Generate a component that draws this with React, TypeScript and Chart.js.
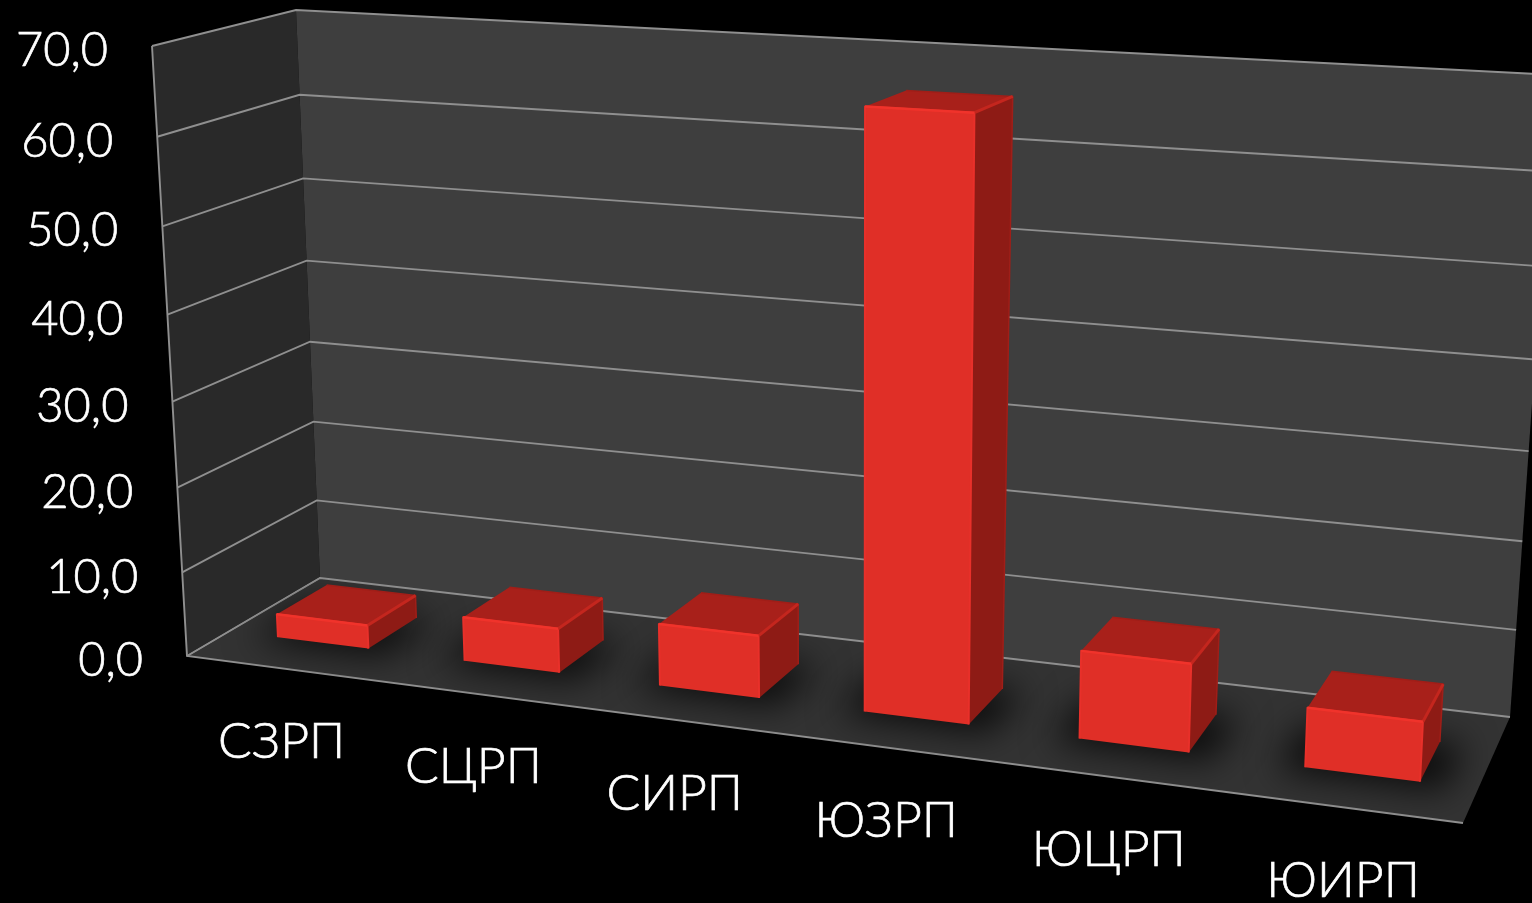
import React, { useEffect, useRef } from "react";
import { Chart, registerables } from "chart.js";

Chart.register(...registerables);

const categories = ["СЗРП", "СЦРП", "СИРП", "ЮЗРП", "ЮЦРП", "ЮИРП"];
const values = [2.8, 5.2, 7.2, 66.2, 9.8, 6.5];
const axisMin = 0;
const axisMax = 70;
const axisStep = 10;

type Pt = [number, number];
const FONT = "Lato, 'Noto Sans', sans-serif";

// Screen corners of the 3-D box: [u=0,w=0],[u=1,w=0],[u=1,w=1],[u=0,w=1]
const frontPlane: Pt[] = [[187, 656], [1463, 823], [1495, 118], [152, 46]];
const backPlane: Pt[] = [[320, 578], [1510, 717], [1555, 75], [296, 10]];
const barFrontDepth = 0.32;
const barBackDepth = 0.7;
const barShiftU = 0.002;

function homography(q: Pt[]) {
  const [[x0, y0], [x1, y1], [x2, y2], [x3, y3]] = q;
  const dx1 = x1 - x2, dx2 = x3 - x2, sx = x0 - x1 + x2 - x3;
  const dy1 = y1 - y2, dy2 = y3 - y2, sy = y0 - y1 + y2 - y3;
  const den = dx1 * dy2 - dx2 * dy1;
  const g = (sx * dy2 - dx2 * sy) / den;
  const h = (dx1 * sy - sx * dy1) / den;
  const a = x1 - x0 + g * x1, b = x3 - x0 + h * x3;
  const d = y1 - y0 + g * y1, e = y3 - y0 + h * y3;
  return (u: number, w: number): Pt => {
    const t = g * u + h * w + 1;
    return [(a * u + b * w + x0) / t, (d * u + e * w + y0) / t];
  };
}
const hFront = homography(frontPlane);
const hBack = homography(backPlane);
function project(u: number, v: number, w: number): Pt {
  const f = hFront(u, w), b = hBack(u, w);
  return [f[0] + (b[0] - f[0]) * v, f[1] + (b[1] - f[1]) * v];
}

function poly(ctx: CanvasRenderingContext2D, pts: Pt[], fill?: string | CanvasGradient) {
  ctx.beginPath();
  pts.forEach((p, i) => (i ? ctx.lineTo(p[0], p[1]) : ctx.moveTo(p[0], p[1])));
  ctx.closePath();
  if (fill) { ctx.fillStyle = fill; ctx.fill(); }
}
function line(ctx: CanvasRenderingContext2D, pts: Pt[], color: string, width: number) {
  ctx.beginPath();
  pts.forEach((p, i) => (i ? ctx.lineTo(p[0], p[1]) : ctx.moveTo(p[0], p[1])));
  ctx.strokeStyle = color;
  ctx.lineWidth = width;
  ctx.stroke();
}

const box3d = {
  id: "box3d",
  beforeDatasetsDraw(chart: any) {
    const ctx: CanvasRenderingContext2D = chart.ctx;
    const area = chart.chartArea;
    const yScale = chart.scales.y;
    const wOf = (val: number) => (area.bottom - yScale.getPixelForValue(val)) / (area.bottom - area.top);
    ctx.save();
    // walls + floor
    poly(ctx, [project(0, 0, 0), project(0, 1, 0), project(0, 1, 1), project(0, 0, 1)], "#292929");
    poly(ctx, [project(0, 1, 0), project(1, 1, 0), project(1, 1, 1), project(0, 1, 1)], "#3e3e3e");
    poly(ctx, [project(0, 0, 0), project(1, 0, 0), project(1, 1, 0), project(0, 1, 0)], "#333333");
    // grid
    const grid = "#8f8f8f";
    yScale.ticks.forEach((t: any) => {
      const w = wOf(t.value);
      line(ctx, [project(0, 0, w), project(0, 1, w), project(1, 1, w)], grid, 1.9);
    });
    line(ctx, [project(0, 0, 1), project(0, 0, 0), project(1, 0, 0)], grid, 1.9);
    line(ctx, [project(0, 0, 0), project(0, 1, 0)], grid, 1.4);
    // shadows on the floor
    ctx.save();
    poly(ctx, [project(0, 0, 0), project(1, 0, 0), project(1, 1, 0), project(0, 1, 0)]);
    ctx.clip();
    ctx.filter = "blur(18px)";
    chart.getDatasetMeta(0).data.forEach((el: any) => {
      const ul = (el.x - el.width / 2 - area.left) / (area.right - area.left) + barShiftU;
      const ur = (el.x + el.width / 2 - area.left) / (area.right - area.left) + barShiftU;
      poly(ctx, [project(ul - 0.018, barFrontDepth - 0.05, 0), project(ur + 0.018, barFrontDepth - 0.05, 0),
        project(ur + 0.018, barBackDepth, 0), project(ul - 0.018, barBackDepth, 0)], "rgba(0,0,0,0.8)");
    });
    ctx.restore();
    ctx.restore();
  },
  beforeDatasetDraw(chart: any) {
    const ctx: CanvasRenderingContext2D = chart.ctx;
    const area = chart.chartArea;
    const W = area.right - area.left, H = area.bottom - area.top;
    ctx.save();
    ctx.lineJoin = "round";
    chart.getDatasetMeta(0).data.forEach((el: any) => {
      const ul = (el.x - el.width / 2 - area.left) / W + barShiftU;
      const ur = (el.x + el.width / 2 - area.left) / W + barShiftU;
      const wt = (area.bottom - el.y) / H;
      const wb = (area.bottom - el.base) / H;
      const v0 = barFrontDepth, v1 = barBackDepth;
      const FLB = project(ul, v0, wb), FRB = project(ur, v0, wb), FRT = project(ur, v0, wt), FLT = project(ul, v0, wt);
      const BRB = project(ur, v1, wb), BRT = project(ur, v1, wt), BLT = project(ul, v1, wt);
      poly(ctx, [FRB, BRB, BRT, FRT], "#8e1b15");
      poly(ctx, [FLT, FRT, BRT, BLT], "#a8201a");
      line(ctx, [BLT, BRT, BRB], "#a01e18", 1.5);
      poly(ctx, [FLB, FRB, FRT, FLT], "#e02f27");
      line(ctx, [FLB, FLT, FRT, FRB], "#e8302a", 2);
      line(ctx, [FRT, BRT], "#c4261e", 3);
      line(ctx, [FLT, FRT], "#f0332b", 2.5);
    });
    ctx.restore();
    return false;
  },
  afterDatasetsDraw(chart: any) {
    const ctx: CanvasRenderingContext2D = chart.ctx;
    const area = chart.chartArea;
    const H = area.bottom - area.top, W = area.right - area.left;
    const { x: xScale, y: yScale } = chart.scales;
    const put = (s: string, x: number, y: number) => {
      ctx.fillText(s, x, y);
      ctx.strokeText(s, x, y);
    };
    ctx.save();
    ctx.fillStyle = "#ffffff";
    ctx.strokeStyle = "#ffffff";
    ctx.lineWidth = 0.7;
    ctx.textBaseline = "middle";
    ctx.font = `300 47px ${FONT}`;
    ctx.textAlign = "right";
    yScale.ticks.forEach((t: any) => {
      const w = (area.bottom - yScale.getPixelForValue(t.value)) / H;
      const p = project(0, 0, w);
      put(t.label, p[0] - 44, p[1] + 5);
    });
    ctx.textAlign = "center";
    ctx.font = `300 50px ${FONT}`;
    xScale.ticks.forEach((t: any, i: number) => {
      const u = (xScale.getPixelForTick(i) - area.left) / W;
      const p = project(u, 0, 0);
      put(t.label, p[0] + 2, p[1] + 74);
    });
    ctx.restore();
  },
};

export default function App() {
  const ref = useRef<HTMLCanvasElement>(null);
  useEffect(() => {
    document.body.style.margin = "0";
    document.body.style.background = "#000";
    const chart = new Chart(ref.current!, {
      type: "bar",
      data: {
        labels: categories,
        datasets: [{ data: values, backgroundColor: "#e02f27", barPercentage: 0.49, categoryPercentage: 1 }],
      },
      options: {
        responsive: false,
        animation: false,
        layout: { padding: 0 },
        plugins: { legend: { display: false }, tooltip: { enabled: false } },
        scales: {
          x: { display: false, type: "category" },
          y: {
            display: false,
            min: axisMin,
            max: axisMax,
            ticks: { stepSize: axisStep, callback: (v: any) => Number(v).toFixed(1).replace(".", ",") },
          },
        },
      },
      plugins: [box3d],
    } as any);
    return () => chart.destroy();
  }, []);
  return <canvas ref={ref} width={1532} height={903} style={{ display: "block", background: "#000" }} />;
}
